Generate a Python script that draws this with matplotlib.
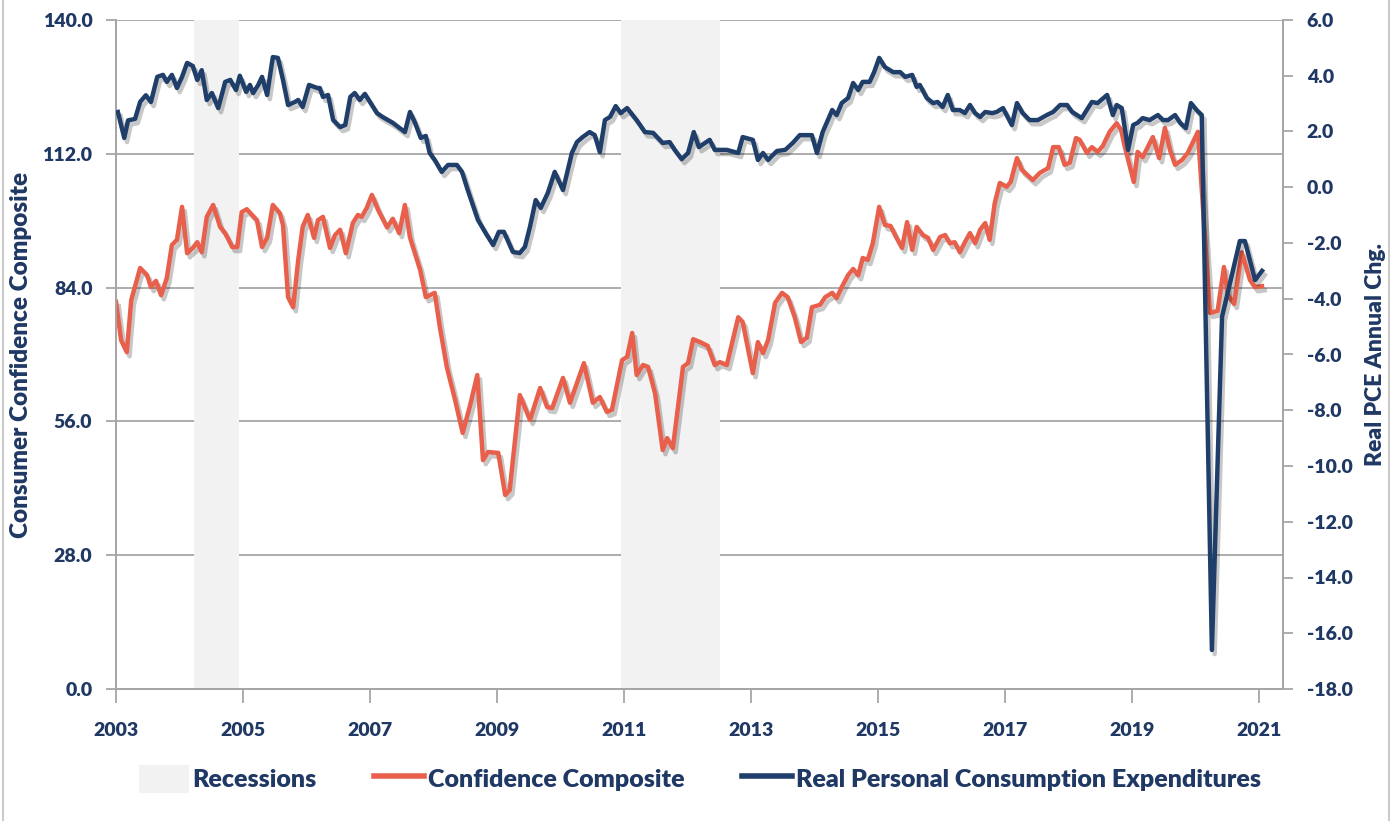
import matplotlib
matplotlib.use("Agg")
import matplotlib.pyplot as plt
import matplotlib.patheffects as pe
from matplotlib.patches import Patch
from matplotlib.lines import Line2D

plt.rcParams['font.family'] = ['Lato', 'DejaVu Sans']
plt.rcParams['font.weight'] = 'heavy'

NAVY = '#1F3864'
RED = '#E8604C'
BLUE = '#1F3F6A'

# recessions shaded on the chart (decimal years)
rec_start = [2004.23, 2010.95]
rec_end = [2004.94, 2012.51]

# Consumer confidence composite (left axis)
conf_dates = [2003.00, 2003.08, 2003.17, 2003.24, 2003.38, 2003.49, 2003.55, 2003.63, 2003.71, 2003.80,
              2003.88, 2003.96, 2004.04, 2004.12, 2004.21, 2004.28, 2004.35, 2004.43, 2004.53, 2004.64,
              2004.72, 2004.83, 2004.91, 2004.98, 2005.06, 2005.22, 2005.30, 2005.38, 2005.47, 2005.58,
              2005.63, 2005.71, 2005.79, 2005.87, 2005.94, 2006.02, 2006.12, 2006.18, 2006.26, 2006.37,
              2006.45, 2006.53, 2006.62, 2006.73, 2006.81, 2006.87, 2006.95, 2007.03, 2007.13, 2007.27,
              2007.36, 2007.46, 2007.55, 2007.63, 2007.79, 2007.88, 2008.02, 2008.10, 2008.21, 2008.34,
              2008.46, 2008.57, 2008.69, 2008.78, 2008.86, 2009.02, 2009.13, 2009.20, 2009.36, 2009.52,
              2009.68, 2009.79, 2009.87, 2010.04, 2010.15, 2010.37, 2010.51, 2010.62, 2010.73, 2010.81,
              2010.97, 2011.05, 2011.13, 2011.20, 2011.30, 2011.38, 2011.49, 2011.61, 2011.68, 2011.77,
              2011.93, 2012.01, 2012.09, 2012.20, 2012.32, 2012.43, 2012.51, 2012.62, 2012.80, 2012.87,
              2013.03, 2013.11, 2013.19, 2013.27, 2013.38, 2013.49, 2013.58, 2013.69, 2013.79, 2013.88,
              2013.96, 2014.09, 2014.17, 2014.28, 2014.35, 2014.43, 2014.53, 2014.61, 2014.69, 2014.76,
              2014.84, 2014.92, 2015.02, 2015.11, 2015.20, 2015.27, 2015.38, 2015.46, 2015.54, 2015.61,
              2015.71, 2015.79, 2015.87, 2015.98, 2016.06, 2016.13, 2016.21, 2016.29, 2016.37, 2016.45,
              2016.53, 2016.61, 2016.69, 2016.76, 2016.84, 2016.92, 2017.03, 2017.09, 2017.19, 2017.27,
              2017.35, 2017.44, 2017.55, 2017.68, 2017.76, 2017.85, 2017.94, 2018.02, 2018.12, 2018.18,
              2018.29, 2018.37, 2018.46, 2018.54, 2018.65, 2018.76, 2018.83, 2018.89, 2018.97, 2019.03,
              2019.09, 2019.17, 2019.25, 2019.33, 2019.43, 2019.52, 2019.60, 2019.68, 2019.79, 2019.88,
              2020.04, 2020.23, 2020.35, 2020.45, 2020.51, 2020.61, 2020.73, 2020.86, 2020.94, 2021.05]
conf_vals = [81.0, 73.0, 70.5, 81.4, 88.1, 86.6, 84.1, 85.4, 82.4, 86.0,
             92.9, 94.0, 100.9, 91.2, 92.3, 93.5, 91.4, 98.8, 101.3, 96.7,
             95.4, 92.5, 92.5, 99.8, 100.4, 98.1, 92.5, 94.4, 101.3, 99.6,
             97.1, 82.0, 79.9, 89.8, 96.7, 99.2, 94.4, 98.1, 98.8, 92.3,
             95.0, 96.1, 91.2, 97.5, 99.2, 98.8, 100.7, 103.4, 100.2, 96.6,
             98.4, 95.4, 101.3, 94.5, 87.7, 82.0, 82.9, 75.8, 67.4, 60.5,
             53.6, 59.0, 65.7, 47.9, 49.6, 49.4, 40.6, 41.6, 61.5, 56.3,
             63.0, 59.0, 58.8, 65.1, 59.9, 68.2, 59.9, 61.1, 58.0, 58.4,
             68.8, 69.5, 74.5, 65.7, 67.8, 67.4, 61.9, 50.0, 52.5, 50.4,
             67.4, 68.2, 73.2, 72.6, 71.8, 67.8, 68.4, 67.8, 77.8, 76.8,
             66.1, 72.6, 70.3, 73.0, 80.8, 82.9, 82.0, 77.8, 72.6, 73.5,
             79.9, 80.4, 82.0, 82.9, 81.8, 84.1, 86.6, 87.9, 86.6, 90.2,
             89.8, 93.3, 100.9, 97.1, 96.9, 95.0, 92.3, 97.7, 91.9, 96.7,
             95.0, 94.4, 91.9, 94.6, 95.0, 93.3, 93.5, 91.4, 93.5, 95.4,
             93.3, 96.1, 97.5, 94.0, 101.7, 105.9, 105.1, 106.1, 111.1, 108.6,
             107.6, 106.5, 108.0, 109.0, 113.4, 113.4, 109.7, 110.1, 115.3, 114.9,
             112.2, 113.4, 112.4, 113.6, 116.6, 118.4, 117.0, 113.4, 109.2, 106.1,
             112.4, 111.3, 113.4, 115.5, 111.1, 117.4, 112.8, 109.7, 110.7, 112.2,
             116.6, 78.7, 79.1, 88.3, 82.5, 80.6, 91.4, 85.6, 84.1, 84.3]

# Real PCE annual change (right axis)
pce_dates = [2003.03, 2003.13, 2003.19, 2003.30, 2003.38, 2003.47, 2003.55, 2003.65, 2003.74, 2003.80,
             2003.88, 2003.96, 2004.04, 2004.12, 2004.21, 2004.28, 2004.35, 2004.43, 2004.51, 2004.61,
             2004.72, 2004.80, 2004.89, 2004.95, 2005.05, 2005.11, 2005.16, 2005.24, 2005.30, 2005.38,
             2005.47, 2005.55, 2005.63, 2005.71, 2005.82, 2005.87, 2005.94, 2006.04, 2006.17, 2006.21,
             2006.26, 2006.34, 2006.42, 2006.53, 2006.61, 2006.69, 2006.76, 2006.84, 2006.92, 2007.11,
             2007.20, 2007.36, 2007.55, 2007.63, 2007.71, 2007.80, 2007.88, 2007.94, 2008.02, 2008.13,
             2008.23, 2008.37, 2008.45, 2008.54, 2008.70, 2008.84, 2008.94, 2009.03, 2009.11, 2009.25,
             2009.36, 2009.44, 2009.52, 2009.61, 2009.69, 2009.80, 2009.91, 2010.04, 2010.18, 2010.26,
             2010.35, 2010.46, 2010.54, 2010.62, 2010.70, 2010.78, 2010.87, 2010.95, 2011.05, 2011.20,
             2011.33, 2011.46, 2011.61, 2011.72, 2011.80, 2011.91, 2012.01, 2012.10, 2012.18, 2012.35,
             2012.43, 2012.62, 2012.80, 2012.87, 2013.03, 2013.11, 2013.19, 2013.27, 2013.41, 2013.54,
             2013.66, 2013.77, 2013.96, 2014.04, 2014.13, 2014.28, 2014.35, 2014.43, 2014.53, 2014.61,
             2014.69, 2014.76, 2014.87, 2014.94, 2015.02, 2015.11, 2015.24, 2015.35, 2015.43, 2015.54,
             2015.61, 2015.66, 2015.77, 2015.87, 2015.94, 2016.02, 2016.10, 2016.18, 2016.29, 2016.37,
             2016.45, 2016.53, 2016.61, 2016.69, 2016.80, 2016.87, 2016.97, 2017.11, 2017.19, 2017.28,
             2017.39, 2017.52, 2017.66, 2017.76, 2017.87, 2017.98, 2018.06, 2018.21, 2018.37, 2018.46,
             2018.61, 2018.70, 2018.76, 2018.84, 2018.94, 2019.02, 2019.09, 2019.17, 2019.28, 2019.41,
             2019.49, 2019.57, 2019.68, 2019.76, 2019.85, 2019.93, 2020.02, 2020.10, 2020.26, 2020.42,
             2020.70, 2020.78, 2020.94, 2021.05]
pce_vals = [2.70, 1.77, 2.40, 2.45, 3.06, 3.30, 3.06, 3.96, 4.03, 3.78,
            4.03, 3.56, 3.96, 4.46, 4.35, 3.85, 4.20, 3.13, 3.38, 2.84,
            3.78, 3.85, 3.49, 4.00, 3.42, 3.67, 3.38, 3.67, 3.96, 3.31,
            4.67, 4.64, 3.85, 2.95, 3.06, 3.13, 2.88, 3.67, 3.56, 3.56,
            3.24, 3.31, 2.41, 2.16, 2.23, 3.24, 3.38, 3.13, 3.35, 2.66,
            2.52, 2.31, 1.98, 2.70, 2.31, 1.77, 1.84, 1.23, 0.98, 0.55,
            0.80, 0.80, 0.55, -0.10, -1.17, -1.71, -2.07, -1.60, -1.60, -2.32,
            -2.36, -2.14, -1.42, -0.46, -0.74, -0.21, 0.55, -0.10, 1.23, 1.62,
            1.80, 1.98, 1.87, 1.26, 2.41, 2.52, 2.91, 2.66, 2.84, 2.41,
            1.98, 1.95, 1.59, 1.62, 1.34, 1.01, 1.23, 1.98, 1.44, 1.70,
            1.34, 1.34, 1.23, 1.80, 1.70, 0.98, 1.23, 0.98, 1.30, 1.34,
            1.59, 1.87, 1.87, 1.23, 1.98, 2.77, 2.59, 3.02, 3.20, 3.74,
            3.49, 3.78, 3.78, 4.13, 4.64, 4.31, 4.13, 4.13, 3.96, 4.03,
            3.60, 3.67, 3.20, 3.02, 3.06, 2.88, 3.31, 2.77, 2.77, 2.66,
            2.95, 2.66, 2.52, 2.70, 2.66, 2.70, 2.84, 2.23, 3.02, 2.66,
            2.41, 2.41, 2.59, 2.70, 2.95, 2.95, 2.70, 2.48, 3.06, 3.02,
            3.31, 2.59, 2.95, 2.84, 1.34, 2.23, 2.31, 2.48, 2.41, 2.59,
            2.41, 2.41, 2.59, 2.31, 2.12, 3.02, 2.77, 2.59, -16.6, -4.65,
            -1.93, -1.93, -3.33, -3.00]

year_ticks = [2003, 2005, 2007, 2009, 2011, 2013, 2015, 2017, 2019, 2021]

fig = plt.figure(figsize=(13.99, 8.21), dpi=100)
ax = fig.add_axes([116 / 1399, 1 - 689 / 821, (1283 - 116) / 1399, (689 - 20) / 821])
ax2 = ax.twinx()

shadow = [pe.SimpleLineShadow(offset=(2, -3), shadow_color='black', alpha=0.22), pe.Normal()]

for s, e in zip(rec_start, rec_end):
    ax.axvspan(s, e, color='#F2F2F2', lw=0, zorder=1)

ax.plot(conf_dates, conf_vals, color=RED, lw=3.2, zorder=3, path_effects=shadow,
        solid_joinstyle='round')
ax2.plot(pce_dates, pce_vals, color=BLUE, lw=3.2, zorder=3, path_effects=shadow,
         solid_joinstyle='round')

ax.set_xlim(2003, 2021.38)
ax.set_ylim(0, 140)
ax2.set_ylim(-18, 6)
ax.set_yticks([0, 28, 56, 84, 112, 140])
ax2.set_yticks(range(-18, 7, 2))
ax.set_xticks(year_ticks)
ax.set_xticklabels([str(y) for y in year_ticks])
ax.yaxis.set_major_formatter(matplotlib.ticker.FormatStrFormatter('%.1f'))
ax2.yaxis.set_major_formatter(matplotlib.ticker.FormatStrFormatter('%.1f'))

ax.set_axisbelow(True)
ax.grid(axis='y', color='#A6A6A6', lw=1.3)
ax.grid(axis='x', visible=False)

for a in (ax, ax2):
    a.spines['top'].set_visible(False)
    for side in ('left', 'right', 'bottom'):
        a.spines[side].set_color('#A6A6A6')
        a.spines[side].set_linewidth(1.3)
    a.tick_params(colors='#A6A6A6', labelcolor=NAVY, labelsize=14, length=7, width=1.3)

ax.tick_params(axis='x', length=10, pad=14)
ax.tick_params(axis='y', pad=10)
ax2.tick_params(axis='y', pad=10)

ax.set_ylabel('Consumer Confidence Composite', color=NAVY, fontsize=17.5, fontweight='heavy')
ax.yaxis.set_label_coords(-0.072, 0.5)
ax2.set_ylabel('Real PCE Annual Chg.', color=NAVY, fontsize=16.5, fontweight='heavy', rotation=90)
ax2.yaxis.set_label_coords(1.070, 0.5)

handles = [Patch(facecolor='#F2F2F2', edgecolor='none'),
           Line2D([0], [0], color=RED, lw=4),
           Line2D([0], [0], color=BLUE, lw=4)]
labels = ['Recessions', 'Confidence Composite', 'Real Personal Consumption Expenditures']
leg = fig.legend(handles, labels, loc='center', bbox_to_anchor=(700 / 1399, 1 - 779 / 821),
                 ncol=3, frameon=False, fontsize=18, handlelength=2.0, handleheight=1.3,
                 handletextpad=0.15, columnspacing=2.3)
for t in leg.get_texts():
    t.set_color(NAVY)

# outer frame lines
fig.add_artist(Line2D([3 / 1399, 3 / 1399], [0, 1], color='#BFBFBF', lw=1.2))
fig.add_artist(Line2D([1389 / 1399, 1389 / 1399], [0, 1], color='#BFBFBF', lw=1.2))

fig.savefig('out.png', dpi=100)
